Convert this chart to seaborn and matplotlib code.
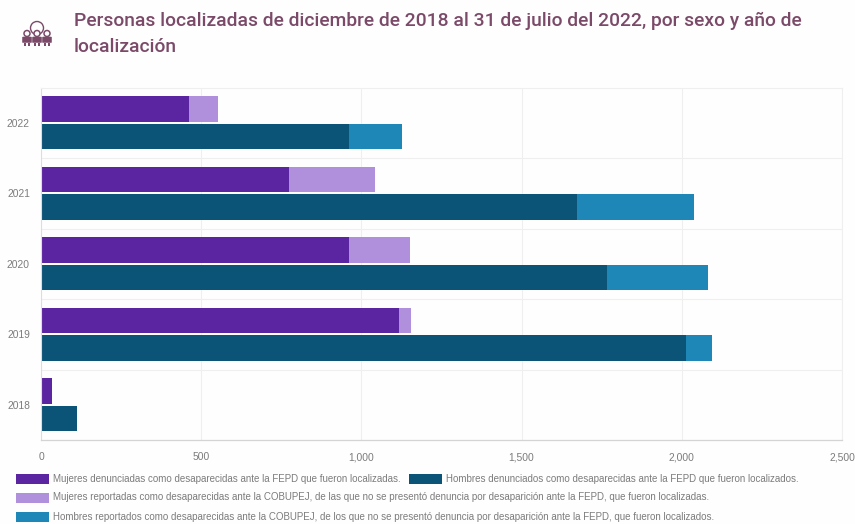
import matplotlib
matplotlib.use("Agg")
import matplotlib.pyplot as plt
from matplotlib.patches import Circle, Rectangle, FancyBboxPatch
import pandas as pd
import seaborn as sns

years = ["2022", "2021", "2020", "2019", "2018"]
mujeres_fepd = [463, 774, 961, 1117, 34]
mujeres_cobupej = [90, 268, 191, 38, 0]
hombres_fepd = [961, 1673, 1766, 2013, 112]
hombres_cobupej = [165, 365, 316, 81, 0]
x_ticks = [0, 500, 1000, 1500, 2000, 2500]

title_text = ("Personas localizadas de diciembre de 2018 al 31 de julio del 2022, por sexo y año de\n"
              "localización")
legend_mf = "Mujeres denunciadas como desaparecidas ante la FEPD que fueron localizadas."
legend_hf = "Hombres denunciados como desaparecidas ante la FEPD que fueron localizados."
legend_mc = ("Mujeres reportadas como desaparecidas ante la COBUPEJ, de las que no se presentó "
             "denuncia por desaparición ante la FEPD, que fueron localizadas.")
legend_hc = ("Hombres reportados como desaparecidas ante la COBUPEJ, de los que no se presentó "
             "denuncia por desaparición ante la FEPD, que fueron localizados.")

C_MF, C_MC, C_HF, C_HC = "#5b24a0", "#b08fdd", "#0b5478", "#1f87b8"
TITLE_C, TEXT_C, GRID_C = "#7b4a68", "#7c7c7c", "#efefef"
W, H = 855, 524

sns.set_theme(style="white")
plt.rcParams["font.family"] = ["Liberation Sans", "DejaVu Sans"]

# Long table: one row per year and sex, with the FEPD count and the overall total
df = pd.DataFrame({
    "anio": years * 2,
    "sexo": ["Mujeres"] * 5 + ["Hombres"] * 5,
    "fepd": mujeres_fepd + hombres_fepd,
    "total": [a + b for a, b in zip(mujeres_fepd, mujeres_cobupej)]
             + [a + b for a, b in zip(hombres_fepd, hombres_cobupej)],
})

fig = plt.figure(figsize=(W / 100, H / 100), dpi=100, facecolor="#fefefe")
ax = fig.add_axes([41 / W, 1 - 440 / H, (842 - 41) / W, (440 - 87.5) / H], facecolor="#fefefe")

# The totals go underneath, the FEPD share is painted over them to read as a stack
common = dict(data=df, y="anio", hue="sexo", order=years, hue_order=["Mujeres", "Hombres"],
              width=0.77, gap=0.06, legend=False, ax=ax, saturation=1, errorbar=None,
              linewidth=0)
sns.barplot(x="total", palette=[C_MC, C_HC], **common)
sns.barplot(x="fepd", palette=[C_MF, C_HF], **common)

ax.set_xlim(0, 2500)
ax.set_ylim(4.5, -0.5)
ax.set_xlabel("")
ax.set_ylabel("")
ax.set_xticks(x_ticks)
ax.set_xticklabels([f"{v:,}" for v in x_ticks])
ax.tick_params(axis="both", length=0, labelsize=7.4, labelcolor=TEXT_C)
ax.tick_params(axis="x", pad=9)
ax.tick_params(axis="y", pad=8)
ax.set_axisbelow(True)
ax.grid(axis="x", color=GRID_C, lw=0.8)
for edge in [0.5, 1.5, 2.5, 3.5]:
    ax.axhline(edge, color=GRID_C, lw=0.8, zorder=0)
for side in ["top", "right"]:
    ax.spines[side].set_color(GRID_C)
    ax.spines[side].set_linewidth(0.8)
ax.spines["left"].set_color("#dddddd")
ax.spines["left"].set_linewidth(0.8)
ax.spines["bottom"].set_color("#d4d4d4")
ax.spines["bottom"].set_linewidth(0.9)

fig.text(74 / W, 1 - 34 / H, title_text, family="Roboto", weight="medium", fontsize=13.9,
         color=TITLE_C, va="center", ha="left", linespacing=1.58)

# Legend, laid out by hand in pixel coordinates
def swatch(x, y, color):
    fig.add_artist(Rectangle((x / W, 1 - (y + 5) / H), 33 / W, 10 / H, transform=fig.transFigure,
                             facecolor=color, edgecolor="none"))

def label(x, y, text):
    fig.text(x / W, 1 - y / H, text, fontsize=7.0, color=TEXT_C, va="center", ha="left")

swatch(16, 479, C_MF); label(53, 478.5, legend_mf)
swatch(409, 479, C_HF); label(446, 478.5, legend_hf)
swatch(16, 497.5, C_MC); label(53, 497, legend_mc)
swatch(16, 517, C_HC); label(53, 516.5, legend_hc)

# Small pictogram beside the title: a group of people under a magnifier
icon = fig.add_axes([20 / W, 1 - 50 / H, 36 / W, 30 / H])
icon.set_xlim(0, 36)
icon.set_ylim(30, 0)
icon.axis("off")
icon.add_patch(Circle((17, 8), 6.5, fill=False, ec=TITLE_C, lw=1.0))
for cx in (7, 17, 27):
    icon.add_patch(Circle((cx, 13.5), 3.0, fc="#fefefe", ec=TITLE_C, lw=1.1))
    icon.add_patch(FancyBboxPatch((cx - 4, 17.5), 8, 4.5, boxstyle="round,pad=0.5",
                                  fc=TITLE_C, ec=TITLE_C, lw=0.4))
    icon.add_patch(Rectangle((cx - 3, 22.5), 1.6, 3.5, fc=TITLE_C, ec="none"))
    icon.add_patch(Rectangle((cx + 1.4, 22.5), 1.6, 3.5, fc=TITLE_C, ec="none"))

fig.savefig("out.png", dpi=100, facecolor=fig.get_facecolor())
